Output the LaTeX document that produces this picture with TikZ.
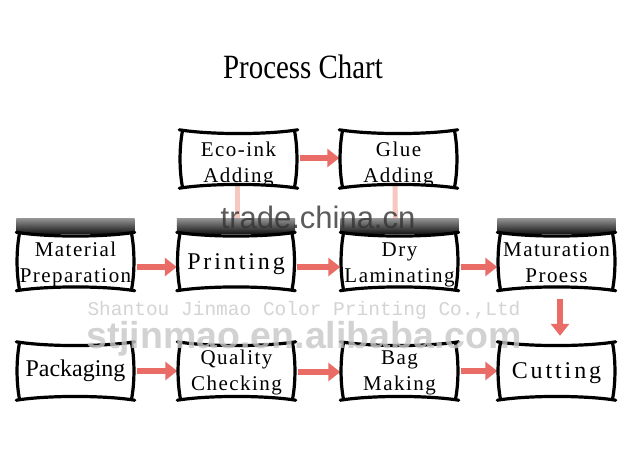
\documentclass[tikz,border=0pt]{standalone}
\usepackage{fontspec}
\setmainfont{Liberation Serif}
\newfontfamily\boxfont[LetterSpace=12]{Liberation Serif}
\newfontfamily\boxfontn{Liberation Serif}
\newfontfamily\boxfonttwo[LetterSpace=7]{Liberation Serif}
\newfontfamily\titlefont[FakeStretch=0.85]{Liberation Serif}
\newfontfamily\wmsans{Liberation Sans}
\newfontfamily\wmmono{Liberation Mono}
\usetikzlibrary{arrows.meta,calc}
\definecolor{arrowred}{RGB}{233,108,102}
\definecolor{palepink}{RGB}{246,200,192}
\tikzset{
  stage/.style={minimum width=112pt, minimum height=54pt, inner sep=0pt, align=center},
  stageone/.style={stage, font=\boxfont\fontsize{24}{28}\selectfont},
  stagepk/.style={stage, font=\boxfontn\fontsize{24}{28}\selectfont},
  stagetwo/.style={stage, font=\boxfonttwo\fontsize{21}{26}\selectfont},
  frameline/.style={line width=3.2pt, line cap=round, line join=round, draw=black},
  flow/.style={draw=arrowred, line width=6pt, -{Triangle[length=12pt,width=18pt]}, shorten <=5pt, shorten >=3pt},
  faint/.style={draw=palepink, line width=5pt},
  greybar/.style={top color=black!42, bottom color=black!90},
}
% text block lowered inside its frame, keeping the box dimensions
\newcommand{\lowtxt}[2]{\raisebox{-#1}[\height][\depth]{\begin{tabular}{@{}c@{}}#2\end{tabular}}}
\newcommand{\wavyframe}[1]{%
  \draw[frameline] ($(#1.north west)+(-3,-2)$) .. controls ($(#1.north west)!0.25!(#1.north east)+(0,3)$) and ($(#1.north west)!0.75!(#1.north east)+(0,3)$) .. ($(#1.north east)+(3,-2)$);
  \draw[frameline] ($(#1.south west)+(-3,2)$) .. controls ($(#1.south west)!0.25!(#1.south east)+(0,-3)$) and ($(#1.south west)!0.75!(#1.south east)+(0,-3)$) .. ($(#1.south east)+(3,2)$);
  \draw[frameline] (#1.north west) .. controls ($(#1.north west)!0.3!(#1.south west)+(-3,0)$) and ($(#1.north west)!0.7!(#1.south west)+(-3,0)$) .. (#1.south west);
  \draw[frameline] (#1.north east) .. controls ($(#1.north east)!0.3!(#1.south east)+(3,0)$) and ($(#1.north east)!0.7!(#1.south east)+(3,0)$) .. (#1.south east);
}
\begin{document}
\begin{tikzpicture}[x=1pt, y=-1pt]
\fill[white] (0,0) rectangle (634,452);
\useasboundingbox (0,0) rectangle (634,452);

% title
\node[font=\titlefont\fontsize{34}{34}\selectfont, anchor=base, inner sep=0pt] (title) at (303,78) {Process Chart};

% stages
\node[stagetwo] (eco)  at (238.5,159) {\lowtxt{5pt}{Eco-ink\\Adding}};
\node[stagetwo] (glue) at (398.5,159) {\lowtxt{5pt}{Glue\\Adding}};
\node[stagetwo] (mat)  at (75.5,261.5) {\lowtxt{3pt}{Material\\Preparation}};
\node[stageone] (print) at (236,261.5) {\lowtxt{2.5pt}{Printing}};
\node[stagetwo] (dry)  at (399.5,261.5) {\lowtxt{3pt}{Dry\\Laminating}};
\node[stagetwo] (matu) at (556.5,261.5) {\lowtxt{3pt}{Maturation\\Proess}};
\node[stagepk]  (pack) at (75.5,371) {Packaging};
\node[stagetwo] (qual) at (236.5,371) {\lowtxt{1pt}{Quality\\Checking}};
\node[stagetwo] (bag)  at (399.5,371) {\lowtxt{1pt}{Bag\\Making}};
\node[stageone] (cut)  at (556.5,371) {\lowtxt{1.5pt}{Cutting}};

% faint vertical connectors (mostly hidden behind the grey bars)
\draw[faint] ([xshift=1pt]print.north) -- ([xshift=-1.5pt]eco.south);
\draw[faint] ([xshift=-4pt]dry.north) -- ([xshift=-3.5pt]glue.south);

% grey bars
\foreach \n in {mat,print,dry,matu}{
  \shade[greybar] ($(\n.north west)+(-3,-16)$) rectangle ($(\n.north east)+(3,-1)$);
}

% arrows
\draw[flow] ([yshift=-5.5pt]mat.east) -- ([yshift=-5.5pt]print.west);
\draw[flow] ([yshift=-5.5pt]print.east) -- ([yshift=-5.5pt]dry.west);
\draw[flow] ([yshift=-5.5pt]dry.east) -- ([yshift=-5.5pt]matu.west);
\draw[flow] ([yshift=1pt]eco.east) -- ([yshift=1pt]glue.west);
\draw[flow] (pack.east) -- (qual.west);
\draw[flow] ([yshift=-1pt]qual.east) -- ([yshift=-1pt]bag.west);
\draw[flow] (bag.east) -- (cut.west);
\draw[flow, shorten <=10pt, shorten >=8pt] ([xshift=3.5pt]matu.south) -- ([xshift=3.5pt]cut.north);

% frames
\foreach \n in {eco,glue,mat,print,dry,matu,pack,qual,bag,cut}{\wavyframe{\n}}

% watermarks
\node[font=\wmsans\fontsize{31}{31}\selectfont, text=black!80, opacity=0.8, anchor=base, inner sep=0pt] (wma) at (318,228) {trade.china.cn};
\node[font=\wmmono\fontsize{19.5}{20}\selectfont, text=black!17, anchor=base, inner sep=0pt] (wmb) at (304,315) {Shantou Jinmao Color Printing Co.,Ltd};
\node[font=\wmsans\bfseries\fontsize{37.5}{38}\selectfont, text=black!22, opacity=0.8, anchor=base, inner sep=0pt] (wmc) at (304,348) {stjinmao.en.alibaba.com};
\end{tikzpicture}
\end{document}
